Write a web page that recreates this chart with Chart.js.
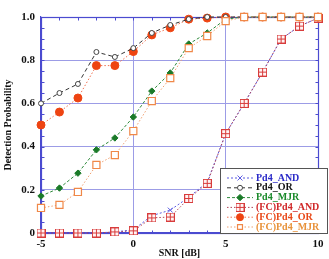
<!DOCTYPE html>
<html>
<head>
<meta charset="utf-8">
<script src="https://cdn.jsdelivr.net/npm/chart.js@4/dist/chart.umd.min.js"></script>
<style>
  html, body { margin: 0; padding: 0; background: #fff; }
</style>
</head>
<body>
<canvas id="myChart" width="329" height="259"></canvas>
<script>
// SNR in dB
const snr = [-5, -4, -3, -2, -1, 0, 1, 2, 3, 4, 5, 6, 7, 8, 9, 10];

// detection probability
const pd4And   = [0, 0, 0, 0, 0.005, 0.015, 0.08, 0.106, 0.165, 0.235, 0.46, 0.60, 0.745, 0.898, 0.958, 0.995];
const pd4Or    = [0.60, 0.648, 0.69, 0.838, 0.815, 0.856, 0.926, 0.963, 0.99, 1, 1, 1, 1, 1, 1, 1];
const pd4Mjr   = [0.171, 0.208, 0.277, 0.385, 0.44, 0.537, 0.657, 0.741, 0.875, 0.926, 0.99, 1, 1, 1, 1, 1];
const fcPd4And = [0, 0, 0, 0, 0.005, 0.01, 0.07, 0.074, 0.16, 0.23, 0.46, 0.60, 0.745, 0.898, 0.958, 0.995];
const fcPd4Or  = [0.50, 0.56, 0.625, 0.775, 0.775, 0.84, 0.917, 0.95, 0.99, 0.995, 1, 1, 1, 1, 1, 1];
const fcPd4Mjr = [0.116, 0.13, 0.19, 0.315, 0.361, 0.472, 0.611, 0.717, 0.856, 0.912, 0.981, 1, 1, 1, 1, 1];

const seriesNames = ['Pd4_AND', 'Pd4_OR', 'Pd4_MJR', '(FC)Pd4_AND', '(FC)Pd4_OR', '(FC)Pd4_MJR'];

const yTicks = [0, 0.2, 0.4, 0.6, 0.8, 1];
const xTicks = [-5, 0, 5, 10];

const serif = '"Liberation Serif", "DejaVu Serif", serif';
const gridBlue = '#9c9ce6';
const axisBlue = '#4b4bd0';

// square with a plus inside, for (FC)Pd4_AND
function crossSquare(color) {
    const c = document.createElement('canvas');
    c.width = 9; c.height = 9;
    const g = c.getContext('2d');
    g.fillStyle = '#fff3f3';
    g.fillRect(0, 0, 9, 9);
    g.strokeStyle = color;
    g.lineWidth = 1;
    g.strokeRect(0.5, 0.5, 8, 8);
    g.beginPath();
    g.moveTo(4.5, 0.5); g.lineTo(4.5, 8.5);
    g.moveTo(0.5, 4.5); g.lineTo(8.5, 4.5);
    g.stroke();
    return c;
}

function pts(arr) {
    return snr.map((s, i) => ({ x: s, y: arr[i] }));
}

// frame on all sides + small inward ticks
const frameTicks = {
    id: 'frameTicks',
    beforeDatasetsDraw(chart) {
        const { ctx, scales: { x, y } } = chart;
        const l = Math.round(x.getPixelForValue(-5)) + 0.5;
        const r = Math.round(x.getPixelForValue(10)) + 0.5;
        const t = Math.round(y.getPixelForValue(1)) + 0.5;
        const b = Math.round(y.getPixelForValue(0)) + 0.5;
        ctx.save();
        ctx.strokeStyle = axisBlue;
        ctx.lineWidth = 1.2;
        ctx.strokeRect(l, t, r - l, b - t);
        ctx.lineWidth = 1;
        ctx.beginPath();
        for (let v = -5; v <= 10; v++) {
            const px = Math.round(x.getPixelForValue(v)) + 0.5;
            ctx.moveTo(px, b); ctx.lineTo(px, b - 3);
            ctx.moveTo(px, t); ctx.lineTo(px, t + 3);
        }
        for (let k = 0; k <= 20; k++) {
            const py = Math.round(y.getPixelForValue(k * 0.05)) + 0.5;
            ctx.moveTo(l, py); ctx.lineTo(l + 3, py);
            ctx.moveTo(r, py); ctx.lineTo(r - 3, py);
        }
        ctx.stroke();
        ctx.restore();
    }
};

// legend box inside the plot, bottom right
const boxLegend = {
    id: 'boxLegend',
    afterDraw(chart) {
        const { ctx } = chart;
        const bx = 220, by = 168, bw = 107, bh = 65;
        ctx.save();
        ctx.fillStyle = '#fff';
        ctx.fillRect(bx, by, bw, bh);
        ctx.strokeStyle = '#555';
        ctx.lineWidth = 1;
        ctx.strokeRect(bx + 0.5, by + 0.5, bw, bh);
        chart.data.datasets.forEach((ds, i) => {
            const cy = by + 10 + i * 9.8;
            ctx.strokeStyle = ds.borderColor;
            ctx.lineWidth = 1;
            ctx.setLineDash(ds.borderDash || []);
            ctx.beginPath();
            ctx.moveTo(227, cy); ctx.lineTo(253, cy);
            ctx.stroke();
            ctx.setLineDash([]);
            ctx.fillStyle = ds.pointBackgroundColor;
            ctx.strokeStyle = ds.pointBorderColor;
            ctx.lineWidth = ds.pointBorderWidth || 1;
            Chart.helpers.drawPoint(ctx, {
                pointStyle: ds.pointStyle,
                radius: Math.min(ds.pointRadius, 3.5),
                rotation: 0,
                borderWidth: ds.pointBorderWidth || 1
            }, 240, cy);
            ctx.fillStyle = ds.textColor;
            ctx.font = 'bold 10px ' + serif;
            ctx.textBaseline = 'middle';
            ctx.textAlign = 'left';
            ctx.fillText(ds.label, 256, cy);
        });
        ctx.restore();
    }
};

const ctx = document.getElementById('myChart');

new Chart(ctx, {
    type: 'line',
    data: {
        datasets: [
            {
                label: seriesNames[0], data: pts(pd4And), order: 5, clip: false,
                borderColor: '#5b5be2', borderWidth: 1, borderDash: [2, 2],
                pointStyle: 'crossRot', pointRadius: 3.5, pointBorderWidth: 1,
                pointBorderColor: '#5b5be2', pointBackgroundColor: '#5b5be2',
                textColor: '#2a2ac8'
            },
            {
                label: seriesNames[1], data: pts(pd4Or), order: 3, clip: false,
                borderColor: '#333', borderWidth: 1, borderDash: [4, 3],
                pointStyle: 'circle', pointRadius: 2.5, pointBorderWidth: 1,
                pointBorderColor: '#444', pointBackgroundColor: '#fff',
                textColor: '#111'
            },
            {
                label: seriesNames[2], data: pts(pd4Mjr), order: 4, clip: false,
                borderColor: '#2f8a3c', borderWidth: 1, borderDash: [3, 2],
                pointStyle: 'rectRot', pointRadius: 3.2, pointBorderWidth: 1,
                pointBorderColor: '#1a7a28', pointBackgroundColor: '#1a7a28',
                textColor: '#1a8a2a'
            },
            {
                label: seriesNames[3], data: pts(fcPd4And), order: 2, clip: false,
                borderColor: '#b04458', borderWidth: 1, borderDash: [1.5, 2],
                pointStyle: crossSquare('#d83c3c'), pointRadius: 4.5, pointBorderWidth: 1,
                pointBorderColor: '#d83c3c', pointBackgroundColor: '#fff3f3',
                textColor: '#d02828'
            },
            {
                label: seriesNames[4], data: pts(fcPd4Or), order: 6, clip: false,
                borderColor: '#f07050', borderWidth: 1, borderDash: [1.5, 2],
                pointStyle: 'circle', pointRadius: 4, pointBorderWidth: 1,
                pointBorderColor: '#ee4412', pointBackgroundColor: '#ee4412',
                textColor: '#e84818'
            },
            {
                label: seriesNames[5], data: pts(fcPd4Mjr), order: 1, clip: false,
                borderColor: '#f0a070', borderWidth: 1, borderDash: [1.5, 2],
                pointStyle: 'rect', pointRadius: 5, pointBorderWidth: 1.2,
                pointBorderColor: '#f08848', pointBackgroundColor: '#fff',
                textColor: '#e8923a'
            }
        ]
    },
    options: {
        responsive: false,
        animation: false,
        layout: { padding: { top: 17, right: 11, left: 0, bottom: 0 } },
        plugins: {
            legend: { display: false },
            tooltip: { enabled: false }
        },
        scales: {
            x: {
                type: 'linear', min: -5, max: 10,
                afterBuildTicks: (s) => { s.ticks = xTicks.map(v => ({ value: v })); },
                afterFit: (s) => { s.height = 26; },
                grid: { color: gridBlue, lineWidth: 1, drawTicks: false },
                border: { color: axisBlue, width: 1.2 },
                ticks: { color: '#111', padding: 5, font: { family: serif, size: 11, weight: 'bold' } },
                title: { display: true, text: 'SNR [dB]', color: '#111', padding: 0,
                         font: { family: serif, size: 10, weight: 'bold' } }
            },
            y: {
                min: 0, max: 1,
                afterBuildTicks: (s) => { s.ticks = yTicks.map(v => ({ value: v })); },
                afterFit: (s) => { s.width = 41; },
                grid: { color: gridBlue, lineWidth: 1, drawTicks: false },
                border: { color: axisBlue, width: 1.2 },
                ticks: { color: '#111', padding: 6, font: { family: serif, size: 11, weight: 'bold' } },
                title: { display: true, text: 'Detection Probability', color: '#111', padding: { top: 2, bottom: 0 },
                         font: { family: serif, size: 10, weight: 'bold' } }
            }
        }
    },
    plugins: [frameTicks, boxLegend]
});
</script>
</body>
</html>
